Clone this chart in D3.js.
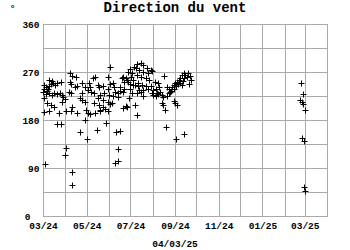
<!DOCTYPE html>
<html>
<head>
<meta charset="utf-8">
<script src="https://cdn.jsdelivr.net/npm/d3@7"></script>
<style>
  body { margin: 0; background: #fff; }
  svg { display: block; font-family: 'Liberation Mono', 'DejaVu Sans Mono', monospace; }
  .axis path, .axis line { display: none; }
  .axis text { font-size: 9.5px; font-weight: bold; fill: #000; font-family: 'Liberation Mono', monospace; }
</style>
</head>
<body>
<svg></svg>
<script>
// wind direction readings (date, degrees), one array per month
let mar24 = [['2024-03-01',233],['2024-03-02',246],['2024-03-02',221],['2024-03-03',239],['2024-03-04',97],
  ['2024-03-03',195],['2024-03-05',242],['2024-03-05',229],['2024-03-06',235],['2024-03-06',211],
  ['2024-03-08',238],['2024-03-09',244],['2024-03-10',255],['2024-03-10',230],['2024-03-10',196],
  ['2024-03-12',247],['2024-03-12',208],['2024-03-14',254],['2024-03-14',227],['2024-03-15',249],
  ['2024-03-17',230],['2024-03-17',205],['2024-03-18',246],['2024-03-21',249],['2024-03-21',229],
  ['2024-03-21',172],['2024-03-23',194],['2024-03-25',230],['2024-03-26',252],['2024-03-26',172],
  ['2024-03-28',227],['2024-03-28',214],['2024-03-29',224],['2024-03-31',219],['2024-03-31',114]]
let apr24 = [['2024-04-02',196],['2024-04-02',127],['2024-04-06',233],['2024-04-07',268],['2024-04-07',252],
  ['2024-04-09',247],['2024-04-09',230],['2024-04-09',197],['2024-04-11',262],['2024-04-11',205],
  ['2024-04-11',83],['2024-04-10',58],['2024-04-14',242],['2024-04-16',261],['2024-04-17',194],
  ['2024-04-18',244],['2024-04-21',221],['2024-04-21',157],['2024-04-24',217],['2024-04-24',230],
  ['2024-04-25',249],['2024-04-28',242],['2024-04-28',214],['2024-04-28',180],['2024-04-30',199]]
let may24 = [['2024-05-01',144],['2024-05-03',193],['2024-05-03',236],['2024-05-04',249],['2024-05-06',242],
  ['2024-05-06',191],['2024-05-07',233],['2024-05-10',258],['2024-05-11',231],['2024-05-11',211],
  ['2024-05-12',261],['2024-05-13',194],['2024-05-15',162],['2024-05-16',246],['2024-05-16',221],
  ['2024-05-18',241],['2024-05-18',208],['2024-05-19',196],['2024-05-20',227],['2024-05-20',199],
  ['2024-05-23',244],['2024-05-23',217],['2024-05-24',205],['2024-05-25',230],['2024-05-27',200],
  ['2024-05-28',174],['2024-05-30',239],['2024-05-30',214],['2024-05-31',261],['2024-05-31',197]]
let jun24 = [['2024-06-01',227],['2024-06-02',279],['2024-06-03',247],['2024-06-03',210],['2024-06-05',212],
  ['2024-06-06',249],['2024-06-07',225],['2024-06-08',242],['2024-06-09',233],['2024-06-09',99],
  ['2024-06-11',158],['2024-06-13',231],['2024-06-13',125],['2024-06-14',224],['2024-06-14',104],
  ['2024-06-16',235],['2024-06-17',160],['2024-06-17',242],['2024-06-19',258],['2024-06-20',202],
  ['2024-06-21',261],['2024-06-21',233],['2024-06-22',239],['2024-06-22',252],['2024-06-25',207],
  ['2024-06-25',258],['2024-06-26',255],['2024-06-26',205],['2024-06-28',252],['2024-06-28',270],
  ['2024-06-29',222],['2024-06-30',247]]
let jul24 = [['2024-07-01',275],['2024-07-01',238],['2024-07-02',261],['2024-07-03',268],['2024-07-03',230],
  ['2024-07-04',246],['2024-07-05',255],['2024-07-06',279],['2024-07-07',246],['2024-07-07',209],
  ['2024-07-08',277],['2024-07-10',285],['2024-07-10',264],['2024-07-10',230],['2024-07-10',189],
  ['2024-07-11',244],['2024-07-12',250],['2024-07-13',274],['2024-07-13',237],['2024-07-15',286],
  ['2024-07-15',260],['2024-07-16',233],['2024-07-17',246],['2024-07-18',283],['2024-07-18',225],
  ['2024-07-19',270],['2024-07-19',236],['2024-07-22',258],['2024-07-23',244],['2024-07-24',277],
  ['2024-07-26',239],['2024-07-26',268],['2024-07-27',255],['2024-07-29',274],['2024-07-29',244],
  ['2024-07-31',230],['2024-07-31',272]]
let aug24 = [['2024-08-02',236],['2024-08-02',227],['2024-08-04',252],['2024-08-05',239],['2024-08-05',225],
  ['2024-08-07',230],['2024-08-08',249],['2024-08-09',229],['2024-08-10',242],['2024-08-11',233],
  ['2024-08-14',212],['2024-08-14',227],['2024-08-16',208],['2024-08-16',224],['2024-08-17',262],
  ['2024-08-18',199],['2024-08-19',167],['2024-08-21',225],['2024-08-21',242],['2024-08-23',230],
  ['2024-08-23',239],['2024-08-25',233],['2024-08-27',235],['2024-08-28',242],['2024-08-30',246],
  ['2024-08-30',239],['2024-08-30',216]]
let sep24 = [['2024-09-01',249],['2024-09-01',212],['2024-09-02',244],['2024-09-03',144],['2024-09-04',252],
  ['2024-09-04',208],['2024-09-05',247],['2024-09-06',255],['2024-09-08',258],['2024-09-08',250],
  ['2024-09-11',264],['2024-09-11',246],['2024-09-12',254],['2024-09-13',268],['2024-09-13',153],
  ['2024-09-14',258],['2024-09-15',264],['2024-09-18',261],['2024-09-19',268],['2024-09-21',247],
  ['2024-09-22',262],['2024-09-23',255]]
let feb25 = [['2025-02-22',217],['2025-02-24',250],['2025-02-25',213],['2025-02-25',146],['2025-02-26',229],
  ['2025-02-27',210],['2025-02-28',141],['2025-02-28',55],['2025-03-01',47],['2025-03-02',199]]

let yTicks = [0, 90, 180, 270, 360]
let yGrid = [0, 45, 90, 135, 180, 225, 270, 315, 360]
let startDate = '2024-03-01'
let endDate = '2025-04-01'
let title = 'Direction du vent'
let unit = '°'
let stamp = '04/03/25'

let width = 350
let height = 250
let plotLeft = 43
let plotRight = 327
let plotTop = 24
let plotBottom = 216
let gridColor = '#aaaaaa'

let parse = d3.timeParse('%Y-%m-%d')
let values = [].concat(mar24, apr24, may24, jun24, jul24, aug24, sep24, feb25)

let svg = d3.select('svg')
  .attr('width', width)
  .attr('height', height)

svg.append('rect')
  .attr('width', width)
  .attr('height', height)
  .attr('fill', '#fff')

let xScale = d3.scaleTime()
  .domain([parse(startDate), parse(endDate)])
  .range([plotLeft, plotRight])

let yScale = d3.scaleLinear()
  .domain([0, 360])
  .range([plotBottom, plotTop])

// grid: one vertical rule per month, one horizontal rule every 45 degrees,
// drawn as 1px filled rects so they stay sharp
let monthTicks = d3.timeMonth.range(parse(startDate), d3.timeDay.offset(parse(endDate), 1))
let grid = svg.append('g').attr('fill', gridColor)

grid.selectAll('rect.vgrid')
  .data(monthTicks)
  .enter()
  .append('rect')
  .attr('class', 'vgrid')
  .attr('x', d => Math.round(xScale(d)))
  .attr('y', plotTop)
  .attr('width', 1)
  .attr('height', plotBottom - plotTop + 1)

grid.selectAll('rect.hgrid')
  .data(yGrid)
  .enter()
  .append('rect')
  .attr('class', 'hgrid')
  .attr('x', plotLeft)
  .attr('y', d => Math.round(yScale(d)))
  .attr('width', plotRight - plotLeft + 1)
  .attr('height', 1)

// axis labels
svg.append('g')
  .attr('class', 'axis')
  .attr('transform', 'translate(0,' + (plotBottom + 0.5) + ')')
  .call(d3.axisBottom(xScale)
    .ticks(d3.timeMonth.every(2))
    .tickSize(0)
    .tickPadding(6)
    .tickFormat(d3.timeFormat('%m/%y')))

let yAxis = svg.append('g')
  .attr('class', 'axis')
  .attr('transform', 'translate(' + (plotLeft + 0.5) + ',0.5)')
  .call(d3.axisLeft(yScale)
    .tickValues(yTicks)
    .tickSize(0)
    .tickPadding(4))

// the 0 label sits a bit further left, clear of the date labels
yAxis.selectAll('.tick')
  .filter(d => d === 0)
  .select('text')
  .attr('x', -13)

// markers
svg.append('g')
  .selectAll('path')
  .data(values)
  .enter()
  .append('path')
  .attr('d', 'M-3,0H3M0,-3V3')
  .attr('transform', d => 'translate(' + (Math.round(xScale(parse(d[0]))) + 0.5) + ',' +
    (Math.round(yScale(d[1])) + 0.5) + ')')
  .attr('stroke', '#000')
  .attr('stroke-width', 1)
  .attr('fill', 'none')

svg.append('text')
  .attr('x', 175)
  .attr('y', 12)
  .attr('text-anchor', 'middle')
  .style('font-size', '14px')
  .style('font-weight', 'bold')
  .text(title)

svg.append('text')
  .attr('x', 12.5)
  .attr('y', 11)
  .attr('text-anchor', 'middle')
  .style('font-size', '9.5px')
  .style('font-weight', 'bold')
  .text(unit)

svg.append('text')
  .attr('x', 175)
  .attr('y', 246.5)
  .attr('text-anchor', 'middle')
  .style('font-size', '9.5px')
  .style('font-weight', 'bold')
  .text(stamp)
</script>
</body>
</html>
